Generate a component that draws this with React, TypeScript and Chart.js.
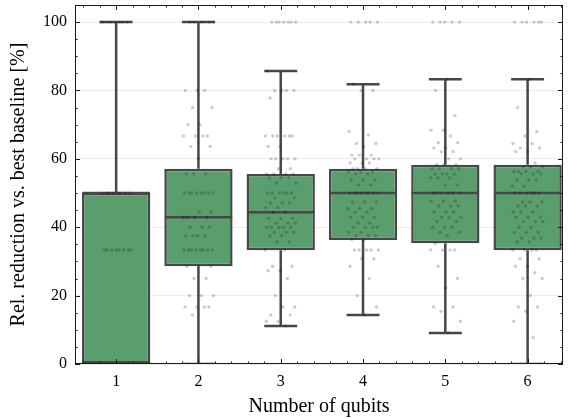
import React, { useEffect, useRef } from 'react';
import { Chart, registerables } from 'chart.js';

Chart.register(...registerables);

// ---------- data ----------
const categories = ['1', '2', '3', '4', '5', '6'];
const catPositions = [1, 2, 3, 4, 5, 6];

// box statistics (in %)
const q1 = [0, 28.6, 33.3, 36.3, 35.3, 33.3];
const median = [50, 42.9, 44.4, 50, 50, 50];
const q3 = [50, 57.1, 55.6, 57.1, 58.3, 58.3];
const whiskerLow = [0, 0, 11.1, 14.3, 9.1, 0];
const whiskerHigh = [100, 100, 85.7, 81.8, 83.3, 83.3];

// individual observations (in %)
const pts1 = [
  100, 100, 100, 100, 100, 100, 100, 100,
  50, 50, 50, 50, 50, 50, 50, 50,
  33.33, 33.33, 33.33, 33.33, 33.33, 33.33, 33.33, 33.33,
  0, 0, 0, 0, 0, 0,
];
const pts2 = [
  100, 100, 100, 100, 100, 80, 80, 80, 75, 75, 70, 70, 66.67, 66.67, 66.67, 66.67,
  63.6, 63.6, 60, 55.6, 55.6, 55.6, 50, 50, 50, 50, 50, 50, 50, 50, 44.4, 44.4,
  42.9, 42.9, 42.9, 42.9, 40, 40, 40, 37.5, 37.5, 37.5, 37.5,
  33.33, 33.33, 33.33, 33.33, 33.33, 33.33, 33.33, 33.33, 28.6, 28.6, 28.6, 25, 25,
  20, 20, 20, 16.67, 16.67, 16.67, 16.67, 14.3, 0, 0, 0, 0,
];
const pts3 = [
  100, 100, 100, 100, 100, 100, 100, 85.7, 80, 80, 80, 80, 77.8,
  66.67, 66.67, 66.67, 66.67, 66.67, 66.67, 63.6, 63.6, 60, 60, 60, 60, 60,
  57.1, 57.1, 55.6, 55.6, 55.6, 55.6, 54.5, 54.5, 54.5, 52.9, 52.9,
  50, 50, 50, 50, 50, 50, 48.6, 48.6, 47.1, 47.1, 47.1, 45.7, 45.7, 44.4, 44.4,
  42.6, 42.6, 42.6, 41.2, 41.2, 41.2, 40, 40, 40, 40, 40, 38.5, 38.5, 38.5,
  37.5, 37.5, 35.7, 35.7, 33.33, 33.33, 28.6, 28.6, 27.3, 27.3, 25, 20,
  16.67, 16.67, 14.3, 14.3, 12.5, 12.5, 11.1,
];
const pts4 = [
  100, 100, 100, 100, 100, 81.8, 80, 80, 68, 67, 64.5, 64.5, 63.6, 61.1, 61.1, 61.1,
  60, 60, 60, 60, 58.8, 58.8, 58.8, 57.1, 57.1, 57.1, 57.1, 56.2, 56.2, 56.2, 55.6, 55.6,
  53.8, 53.8, 53.8, 52.4, 52.4, 50, 50, 50, 50, 50, 50, 50, 50, 47.4, 47.4, 47.4,
  45.5, 45.5, 45.5, 44.4, 44.4, 42.9, 42.9, 42.9, 41.2, 41.2, 40, 40, 40, 40,
  38.5, 38.5, 37.5, 37.5, 37.5, 36.4, 36.4, 33.33, 33.33, 33.33, 33.33, 33.33,
  30.8, 30.8, 28.6, 25, 20, 16.67, 14.3,
];
const pts5 = [
  100, 100, 100, 100, 100, 83.3, 80, 72.7, 68.4, 68.4, 66.67, 64.7, 64.7, 63.2, 63.2,
  62.1, 62.1, 60, 60, 58.3, 58.3, 58.3, 57.1, 57.1, 57.1, 57.1, 55.6, 55.6, 55.6, 55.6,
  54.5, 54.5, 54.5, 52.4, 52.4, 50, 50, 50, 50, 50, 50, 47.6, 47.6, 47.6,
  46.2, 46.2, 46.2, 44.4, 44.4, 44.4, 42.9, 42.9, 42.9, 41.7, 41.7, 40, 40, 40,
  38.5, 38.5, 37.5, 35.3, 33.33, 33.33, 33.33, 33.33, 28.6, 25, 22.2,
  16.67, 16.67, 15.4, 12.5, 9.1,
];
const pts6 = [
  100, 100, 100, 100, 100, 100, 83.3, 75, 68, 66.67, 64.5, 64.5, 63.2, 63.2, 62.1, 62.1,
  58.8, 57.7, 57.7, 57.7, 56.3, 56.3, 56.3, 56.3, 55.6, 55.6, 55.6, 53.8, 53.8, 53.8,
  52, 52, 50, 50, 50, 50, 50, 50, 47.4, 47.4, 47.4, 46.2, 46.2, 46.2, 44.4, 44.4, 44.4,
  42.9, 42.9, 42.9, 41.7, 41.7, 41.7, 40, 40, 38.5, 38.5, 38.5, 36.8, 36.8, 36.8,
  35.7, 35.7, 33.33, 33.33, 33.33, 33.33, 30.8, 30.8, 28.6, 28.6, 26.7, 25, 25, 20,
  16.67, 16.67, 15.4, 12.5, 7.7, 0, 0, 0,
];
const pointsByCategory = [pts1, pts2, pts3, pts4, pts5, pts6];

const yMajorTicks = [0, 20, 40, 60, 80, 100];
const yMinorStep = 5;
const xMinorStep = 0.2;

// ---------- styling ----------
const FONT = "'Liberation Serif', 'Times New Roman', Times, serif";
const BOX_FILL = '#5a9e6e';
const LINE_COLOR = '#474747';
const AXIS_COLOR = '#1a1a1a';

// deterministic strip-plot jitter (horizontal spread only)
const jitter = (i: number, j: number) => (((j * 0.6180339 + i * 0.37) % 1) - 0.5) * 0.38;

const framePlugin = {
  id: 'frameTicks',
  afterDatasetsDraw(chart: any) {
    const { ctx, chartArea: a, scales } = chart;
    const x = scales.x;
    const y = scales.y;
    ctx.save();
    ctx.strokeStyle = AXIS_COLOR;
    ctx.lineWidth = 1;
    ctx.strokeRect(a.left + 0.5, a.top + 0.5, a.right - a.left - 1, a.bottom - a.top - 1);
    const major = 5;
    const minor = 2.5;
    ctx.beginPath();
    for (let v = y.min; v <= y.max + 1e-9; v += yMinorStep) {
      const isMajor = yMajorTicks.some((t) => Math.abs(t - v) < 1e-6);
      const len = isMajor ? major : minor;
      const py = Math.round(y.getPixelForValue(v)) + 0.5;
      ctx.moveTo(a.left, py);
      ctx.lineTo(a.left + len, py);
      ctx.moveTo(a.right, py);
      ctx.lineTo(a.right - len, py);
    }
    const start = Math.ceil(x.min / xMinorStep - 1e-9);
    const end = Math.floor(x.max / xMinorStep + 1e-9);
    for (let k = start; k <= end; k++) {
      const v = k * xMinorStep;
      const isMajor = catPositions.some((t) => Math.abs(t - v) < 1e-6);
      const len = isMajor ? major : minor;
      const px = Math.round(x.getPixelForValue(v)) + 0.5;
      ctx.moveTo(px, a.bottom);
      ctx.lineTo(px, a.bottom - len);
      ctx.moveTo(px, a.top);
      ctx.lineTo(px, a.top + len);
    }
    ctx.stroke();
    ctx.restore();
  },
};

export default function App() {
  const canvasRef = useRef<HTMLCanvasElement | null>(null);

  useEffect(() => {
    document.body.style.margin = '0';
    const canvas = canvasRef.current;
    if (!canvas) return;

    const boxData = catPositions.map((c, i) => ({ x: c, y: [q1[i], q3[i]] }));

    const lineData: any[] = [];
    const capHalf = 0.2;
    const boxHalf = 0.41;
    catPositions.forEach((c, i) => {
      lineData.push({ x: c, y: q3[i] }, { x: c, y: whiskerHigh[i] }, { x: c, y: null });
      lineData.push({ x: c - capHalf, y: whiskerHigh[i] }, { x: c + capHalf, y: whiskerHigh[i] }, { x: c, y: null });
      lineData.push({ x: c, y: q1[i] }, { x: c, y: whiskerLow[i] }, { x: c, y: null });
      lineData.push({ x: c - capHalf, y: whiskerLow[i] }, { x: c + capHalf, y: whiskerLow[i] }, { x: c, y: null });
      lineData.push({ x: c - boxHalf, y: median[i] }, { x: c + boxHalf, y: median[i] }, { x: c, y: null });
    });

    const scatterData: any[] = [];
    pointsByCategory.forEach((pts, i) => {
      pts.forEach((v, j) => {
        scatterData.push({ x: catPositions[i] + jitter(i, j), y: v });
      });
    });

    const chart = new Chart(canvas, {
      type: 'bar',
      data: {
        datasets: [
          {
            type: 'scatter',
            data: scatterData,
            backgroundColor: 'rgba(0,0,0,0.2)',
            borderWidth: 0,
            pointRadius: 1.7,
            order: 0,
          } as any,
          {
            type: 'line',
            data: lineData,
            borderColor: LINE_COLOR,
            borderWidth: 2.5,
            pointRadius: 0,
            spanGaps: false,
            fill: false,
            tension: 0,
            order: 1,
          } as any,
          {
            type: 'bar',
            data: boxData,
            backgroundColor: BOX_FILL,
            borderColor: LINE_COLOR,
            borderWidth: 2.5,
            borderSkipped: false,
            barPercentage: 1,
            categoryPercentage: 0.83,
            order: 2,
          } as any,
        ],
      },
      options: {
        responsive: false,
        animation: false,
        devicePixelRatio: 1,
        events: [],
        layout: { padding: { top: 5, right: 5, left: 0, bottom: 0 } },
        plugins: {
          legend: { display: false },
          tooltip: { enabled: false },
        },
        scales: {
          x: {
            type: 'linear',
            min: 0.5,
            max: 6.43,
            offset: false,
            afterBuildTicks: (scale: any) => {
              scale.ticks = catPositions.map((v) => ({ value: v }));
            },
            afterFit: (scale: any) => {
              scale.height = 55;
              scale.paddingLeft = 0;
              scale.paddingRight = 0;
            },
            ticks: {
              autoSkip: false,
              maxRotation: 0,
              padding: 8,
              color: '#000',
              font: { family: FONT, size: 16 },
              callback: (v: any) => {
                const idx = catPositions.indexOf(Number(v));
                return idx >= 0 ? categories[idx] : '';
              },
            },
            grid: { display: false, offset: false, drawTicks: false },
            border: { display: false },
            title: {
              display: true,
              text: 'Number of qubits',
              color: '#000',
              font: { family: FONT, size: 20 },
              padding: { top: 0, bottom: 0 },
            },
          },
          y: {
            type: 'linear',
            min: 0,
            max: 105,
            afterBuildTicks: (scale: any) => {
              scale.ticks = yMajorTicks.map((v) => ({ value: v }));
            },
            afterFit: (scale: any) => {
              scale.width = 75;
              scale.paddingTop = 0;
              scale.paddingBottom = 0;
            },
            ticks: {
              padding: 8,
              color: '#000',
              font: { family: FONT, size: 16 },
              callback: (v: any) => String(v),
            },
            grid: { color: '#ebebeb', lineWidth: 1, drawTicks: false },
            border: { display: false },
            title: {
              display: true,
              text: 'Rel. reduction vs. best baseline [%]',
              color: '#000',
              font: { family: FONT, size: 20 },
              padding: { top: 7, bottom: 0 },
            },
          },
        },
      } as any,
      plugins: [framePlugin],
    });

    return () => chart.destroy();
  }, []);

  return (
    <div style={{ position: 'absolute', left: 0, top: 0, width: 568, height: 419 }}>
      <canvas ref={canvasRef} width={568} height={419} style={{ display: 'block', width: 568, height: 419 }} />
    </div>
  );
}
